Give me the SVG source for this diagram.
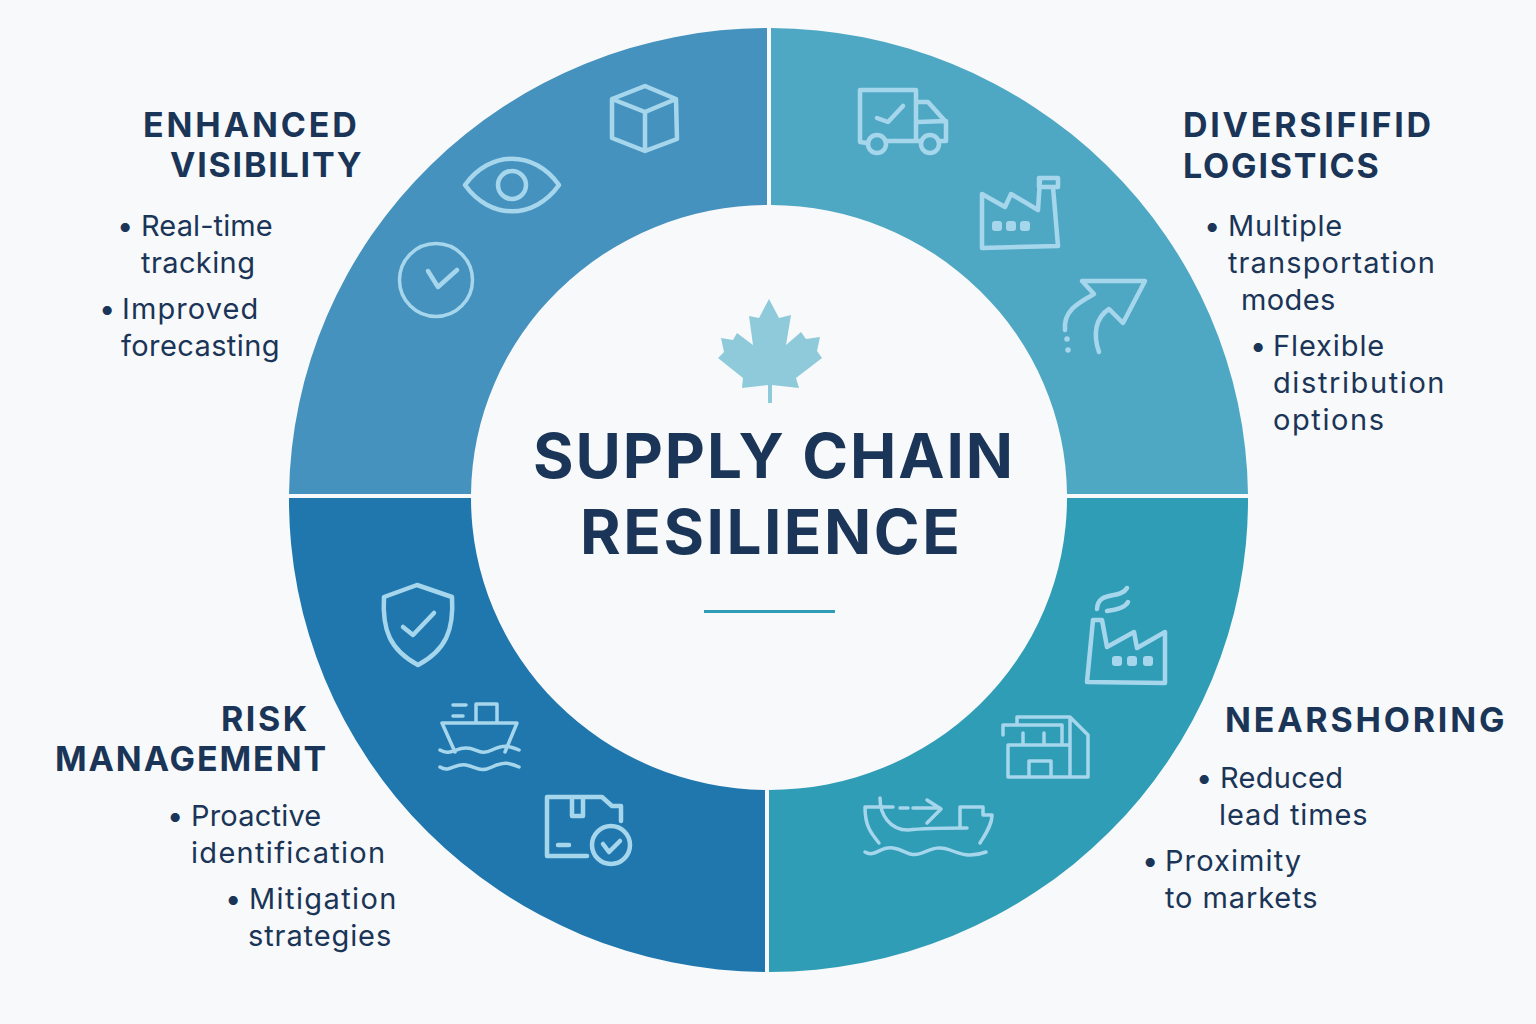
<svg xmlns="http://www.w3.org/2000/svg" width="1536" height="1024" viewBox="0 0 1536 1024">
<style>
text{font-family:Inter,"Noto Sans","Liberation Sans",sans-serif;fill:#1a3557}
.h{font-size:34px;font-weight:700}
.b{font-size:29px;font-weight:400}
.t{font-size:62px;font-weight:700}
.i{fill:none;stroke:#a6d6ec;stroke-width:4.500;stroke-linecap:round;stroke-linejoin:round}
.d{fill:#a6d6ec;stroke:none}
</style>
<rect width="1536" height="1024" fill="#f8f9fa"/>
<g id="connectors"></g>
<g id="enhanced-visibility">
<path fill="#4692bf" d="M289 494A479.5 472 0 0 1 767 28V205A298 292 0 0 0 471 494Z"/>
<g class="i">
<path d="M645 86L676 99L677 139L645 151L612 138L612 99ZM612 99L645 112L676 99M645 112V151"/>
<path d="M465 185C490 150 534 150 559 185C534 220 490 220 465 185Z"/><circle cx="512" cy="185" r="14"/>
<circle cx="436" cy="280" r="36.500" stroke-width="3.500"/><path d="M428 271L438 287L457 270"/>
</g>
<text class="h" x="143" y="137" letter-spacing="2.900">ENHANCED</text><text class="h" x="170" y="177" letter-spacing="1.800">VISIBILITY</text>
<text class="b" x="117" y="236">•</text><text class="b" x="141" y="236" letter-spacing=".1">Real-time</text><text class="b" x="141" y="273" letter-spacing=".4">tracking</text>
<text class="b" x="99" y="319">•</text><text class="b" x="122" y="319" letter-spacing="1.100">Improved</text><text class="b" x="121" y="356" letter-spacing=".4">forecasting</text>
</g>
<g id="diversified-logistics">
<path fill="#4fa8c3" d="M771 28A479.5 472 0 0 1 1248 494H1067A298 292 0 0 0 771 205Z"/>
<g class="i">
<path d="M867 143L860 142V90H916V140M887 141H920M940 141H946V122L928 102H917M918 122L946 121M877 118L888 122L903 106"/>
<circle cx="877" cy="144" r="9"/><circle cx="930" cy="144" r="9"/>
<path d="M982 248V194L1005 207L1011 194L1038 210L1040 179M1039 178H1058V187H1039ZM1053 187L1058 246L982 248"/>
<rect class="d" x="992" y="221" width="10" height="10" rx="3"/><rect class="d" x="1006" y="221" width="10" height="10" rx="3"/><rect class="d" x="1020" y="221" width="10" height="10" rx="3"/>
<path d="M1099 352C1093 335 1095 318 1109 309L1123 323L1145 281H1082L1094 294C1080 302 1063 310 1065 330"/>
<path d="M1067 339v.1M1068 350v.1" stroke-width="5.500"/>
</g>
<text class="h" x="1183" y="137" letter-spacing="2.750">DIVERSIFIFID</text><text class="h" x="1183" y="178" letter-spacing="1.800">LOGISTICS</text>
<text class="b" x="1204" y="236">•</text><text class="b" x="1228" y="236" letter-spacing=".75">Multiple</text><text class="b" x="1228" y="273" letter-spacing="1.100">transportation</text><text class="b" x="1241" y="310" letter-spacing=".4">modes</text>
<text class="b" x="1250" y="356">•</text><text class="b" x="1273" y="356" letter-spacing=".9">Flexible</text><text class="b" x="1273" y="393" letter-spacing="1.600">distribution</text><text class="b" x="1273" y="430" letter-spacing="1.600">options</text>
</g>
<g id="risk-management">
<path fill="#1f77ae" d="M289 498H471A298 292 0 0 0 765 790V972A479.5 472 0 0 1 289 498Z"/>
<g class="i">
<path d="M417 585L452 597C454 630 446 650 418 665C390 650 382 630 384 597ZM403 627L413 635L434 613"/>
<path d="M442 723H517L505 752M442 723L455 752M476 723V704H497V723M453 705H466M453 716H463M440 750C450 756 455 748 466 748S480 756 492 750S510 746 519 750M440 767C450 773 455 763 466 765S480 773 492 767S510 763 519 767" stroke-width="3.500"/>
<path d="M587 856H547V797H602L612 806H621V821M572 797V816H583V797M558 845H569"/><circle cx="611" cy="845" r="19"/><path d="M603 844L609 852L620 841"/>
</g>
<text class="h" x="221" y="731" letter-spacing="2.500">RISK</text><text class="h" x="55" y="771" letter-spacing="1.900">MANAGEMENT</text>
<text class="b" x="167" y="826">•</text><text class="b" x="191" y="826" letter-spacing=".2">Proactive</text><text class="b" x="191" y="863" letter-spacing="1.300">identification</text>
<text class="b" x="225" y="909">•</text><text class="b" x="249" y="909" letter-spacing="1.400">Mitigation</text><text class="b" x="248" y="946" letter-spacing=".9">strategies</text>
</g>
<g id="nearshoring">
<path fill="#2f9db6" d="M1067 498H1248A479.5 472 0 0 1 769 972V790A298 292 0 0 0 1067 498Z"/>
<g class="i">
<path d="M1087 682L1093 620H1102L1107 647L1134 632L1137 648L1165 632V683ZM1097 609C1098 590 1120 600 1127 588M1107 611C1115 610 1125 608 1128 602"/>
<rect class="d" x="1112" y="656" width="10" height="10" rx="3"/><rect class="d" x="1127" y="656" width="10" height="10" rx="3"/><rect class="d" x="1143" y="656" width="10" height="10" rx="3"/>
<path d="M1017 723V717H1070L1088 735V777H1008V745H1070M1070 717V777M1003 735V725H1062V743M1023 733V743M1044 733V743M1029 777V761H1051V777" stroke-width="3.500"/>
<path d="M893 807H865C865 825 870 832 879 843M880 798C880 815 890 830 908 830C925 828 945 828 967 828M900 808H908M913 808H940M927 800L941 809L927 823M960 827V807H983V815H992C992 825 985 835 980 843M865 852C875 858 880 846 893 848S910 858 922 853S940 846 950 850S970 858 986 852" stroke-width="3.500"/>
</g>
<text class="h" x="1225" y="732" letter-spacing="2.800">NEARSHORING</text>
<text class="b" x="1196" y="788">•</text><text class="b" x="1220" y="788" letter-spacing=".3">Reduced</text><text class="b" x="1219" y="825" letter-spacing=".9">lead times</text>
<text class="b" x="1142" y="871">•</text><text class="b" x="1165" y="871" letter-spacing="1.100">Proximity</text><text class="b" x="1165" y="908" letter-spacing=".9">to markets</text>
</g>
<g id="center">
<path fill="#8fcadb" d="M769 299L779 318L791 315L786 345L801 332L806 339L820 337L817 351L822 358L796 378L799 388L772 385V403H768V385L742 388L743 378L718 358L724 352L721 338L733 340L737 333L753 345L749 316L759 318Z"/>
<text class="t" x="533" y="478" letter-spacing="1.900">SUPPLY CHAIN</text><text class="t" x="580" y="554" letter-spacing="2.500">RESILIENCE</text>
<path d="M704 611.500H835" stroke="#2f9db6" stroke-width="3" fill="none"/>
</g>
</svg>
